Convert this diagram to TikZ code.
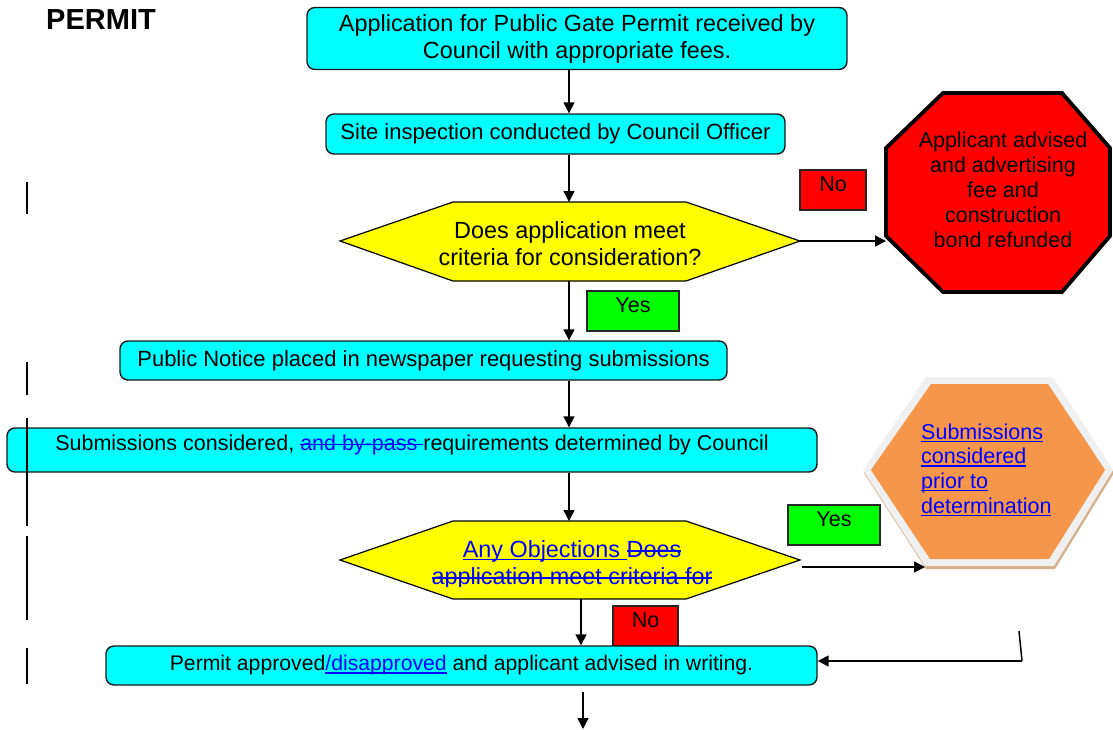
\documentclass[tikz,border=0pt]{standalone}
\usepackage{fontspec}
\setmainfont{Liberation Sans}
\usetikzlibrary{arrows.meta,calc}
\definecolor{orng}{RGB}{245,150,74}
\definecolor{hexrim}{RGB}{240,240,240}
\definecolor{hexshadow}{RGB}{214,176,140}
\definecolor{aqua}{RGB}{0,255,255}
\definecolor{yel}{RGB}{255,255,0}
\definecolor{rd}{RGB}{255,0,0}
\definecolor{grn}{RGB}{0,255,0}
\definecolor{blu}{RGB}{0,0,255}
\newcommand\bodyfnt{\fontsize{21.5}{26.5}\selectfont}
\newcommand\bigfnt{\fontsize{23.4}{27}\selectfont}
\newcommand\hexfnt{\fontsize{21.5}{24.7}\selectfont}
\newlength\mylinew
\newcommand\myul[1]{\settowidth\mylinew{#1}\rlap{\rule[-2.8pt]{\mylinew}{1.4pt}}#1}
\newcommand\myso[1]{\settowidth\mylinew{#1}\rlap{\rule[5.8pt]{\mylinew}{1.4pt}}#1}
\begin{document}
\begin{tikzpicture}[x=1pt,y=-1pt,
  proc/.style={draw=black!90, line width=1.4pt, fill=aqua, rounded corners=8pt, inner sep=0pt, font=\bodyfnt, align=center},
  tagbox/.style={draw=black!85, line width=1.2pt, inner sep=0pt, font=\bodyfnt, text height=15.5pt, text depth=13pt},
  dia/.style={draw=black, line width=1.2pt, fill=yel},
  plain/.style={inner sep=0pt, font=\bodyfnt, align=center},
  arr/.style={line width=1.5pt, -{Triangle[length=11pt,width=11pt]}},
  bar/.style={line width=1.8pt}]
\useasboundingbox (0,0) rectangle (1113,729);
\fill[white] (0,0) rectangle (1113,729);

% title
\node[inner sep=0pt, font=\fontsize{29}{32}\selectfont\bfseries] (title) at (101,20) {PERMIT};

% process boxes
\node[proc, minimum width=540pt, minimum height=62pt, font=\bigfnt] (b1) at (577,38.5) {Application for Public Gate Permit received by\\Council with appropriate fees.};
\node[proc, minimum width=459pt, minimum height=40pt, font=\fontsize{22}{26}\selectfont] (b2) at (555.5,134) {Site inspection conducted by Council Officer};

% decision 1
\draw[dia] (340,241) -- (453,202) -- (686,202) -- (800,241) -- (686,281) -- (453,281) -- cycle;
\node[plain, minimum width=460pt, minimum height=79pt, font=\bigfnt] (d1) at (570,244) {Does application meet\\criteria for consideration?};

\node[tagbox, fill=rd, minimum width=66pt, minimum height=40pt] (no1) at (833,190) {No};

% octagon
\draw[line width=3.8pt, fill=rd, line join=miter] (943,93) -- (1062,93) -- (1110,148) -- (1110,236) -- (1062,292) -- (943,292) -- (886,236) -- (886,148) -- cycle;
\node[plain, minimum width=224pt, minimum height=199pt, font=\fontsize{21.5}{25}\selectfont] (oct) at (1003,190) {Applicant advised\\and advertising\\fee and\\construction\\bond refunded};

\node[tagbox, fill=grn, minimum width=92pt, minimum height=40pt] (yes1) at (633,311) {Yes};

\node[proc, minimum width=607pt, minimum height=39pt, font=\fontsize{22}{26}\selectfont] (b3) at (423.5,360.5) {Public Notice placed in newspaper requesting submissions};
\node[proc, minimum width=810pt, minimum height=44pt, text height=15.5pt, text depth=14pt] (b4) at (412,450) {Submissions considered, {\color{blu}\myso{and by-pass\ }}requirements determined by Council};

% decision 2
\draw[dia] (340,560) -- (453,521) -- (686,521) -- (800,560) -- (686,599) -- (453,599) -- cycle;
\node[plain, minimum width=460pt, minimum height=78pt] (d2) at (570,560) {};
\begin{scope}
  \clip (340,500) rectangle (800,586);
  \node[plain, font=\bigfnt] (d2t) at (572,565) {{\color{blu}\myul{Any Objections\ }\myso{Does}}\\{\color{blu}\myso{application meet criteria for}}};
\end{scope}

\node[tagbox, fill=grn, minimum width=92pt, minimum height=40pt] (yes2) at (834,525) {Yes};

% hexagon
\fill[hexshadow] (864,473) -- (927,380) -- (1054,380) -- (1114,473) -- (1055,569) -- (926,569) -- cycle;
\fill[hexrim] (863,470) -- (926,377) -- (1053,377) -- (1113,470) -- (1054,566) -- (925,566) -- cycle;
\fill[orng] (871,470) -- (931,384) -- (1048,384) -- (1105,470) -- (1049,559) -- (930,559) -- cycle;
\node[inner sep=0pt, font=\hexfnt, align=left, anchor=north west] (hx) at (921,423.5) {{\color{blu}\myul{Submissions}}\\{\color{blu}\myul{considered}}\\{\color{blu}\myul{prior to}}\\{\color{blu}\myul{determination}}};
\coordinate (hxbl) at (925,567);

\node[tagbox, fill=rd, minimum width=65pt, minimum height=40pt] (no2) at (645.5,626) {No};

\node[proc, minimum width=711pt, minimum height=39pt, font=\fontsize{21.2}{26}\selectfont] (b5) at (461.5,665.5) {Permit approved{\color{blu}\myul{/disapproved}} and applicant advised in writing.};

% connectors
\coordinate (ax) at (569,0);
\coordinate (ax2) at (581,0);
\coordinate (ax3) at (583,0);
\coordinate (d1tip) at ($(d1.east)+(0,-3)$);
\draw[arr] (ax |- b1.south) -- (ax |- b2.north);
\draw[arr] (ax |- b2.south) -- (ax |- 0,202);
\draw[arr] (d1tip) -- (d1tip -| 886,0);
\draw[arr] (ax |- 0,281) -- (ax |- b3.north);
\draw[arr] (ax |- b3.south) -- (ax |- b4.north);
\draw[arr] (ax |- b4.south) -- (ax |- 0,521);
\draw[arr] ($(d2.east)+(2,7)$) -- (hxbl);
\draw[arr] (ax2 |- 0,599) -- (ax2 |- b5.north);
\coordinate (fb) at (1019,631);
\coordinate (fbc) at (1022,661);
\draw[line width=1.5pt] (fb) -- (fbc);
\draw[arr] (fbc) -- (fbc -| b5.east);
\coordinate (endpt) at (583,729);
\draw[arr] ($(ax3 |- b5.south)+(0,6)$) -- (endpt);

% change bars
\draw[bar] (27,182) -- (27,214);
\draw[bar] (27,362) -- (27,395);
\draw[bar] (27,418) -- (27,526);
\draw[bar] (27,536) -- (27,620);
\draw[bar] (27,648) -- (27,684);
\end{tikzpicture}
\end{document}
